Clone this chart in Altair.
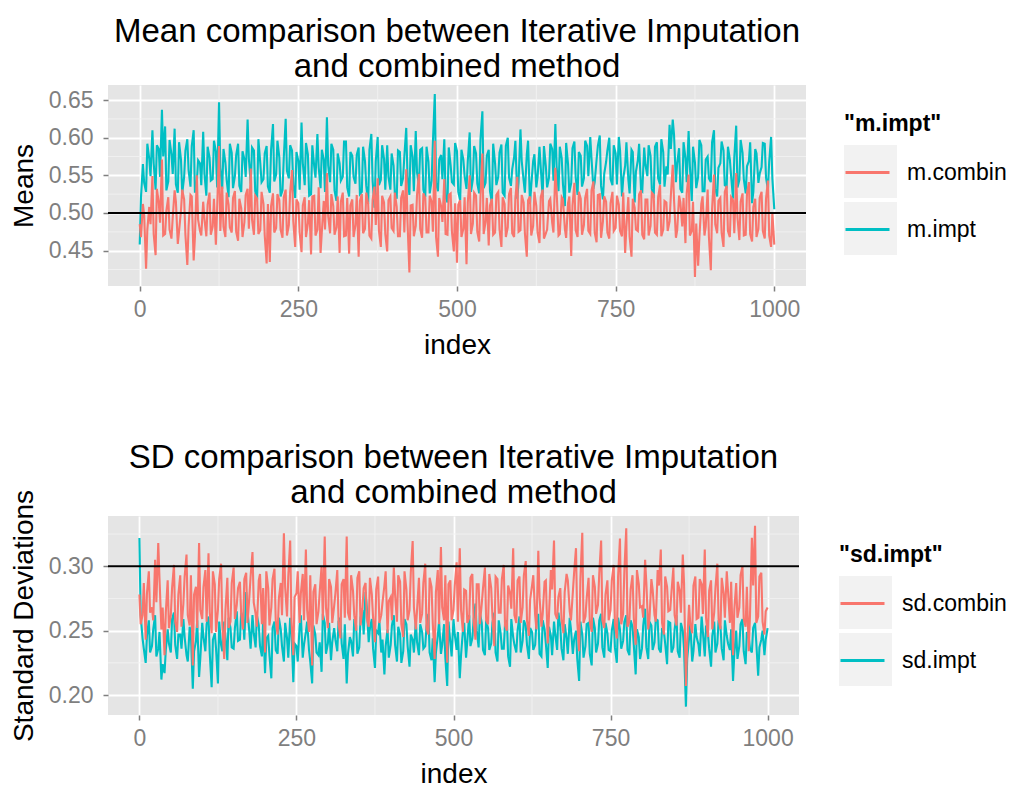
import altair as alt
import pandas as pd

# ---------------- data ----------------
# values at index 0, 5, 10, ..., 1000
index_a = list(range(0, 1001, 5))
# values at index 2, 7, 12, ..., 997
index_b = list(range(2, 1000, 5))

m_impt_a = [
    0.458, 0.565, 0.528, 0.572, 0.610, 0.531, 0.585, 0.637, 0.615, 0.542,
    0.578, 0.612, 0.527, 0.571, 0.548, 0.598, 0.535, 0.610, 0.541, 0.566,
    0.608, 0.523, 0.574, 0.545, 0.582, 0.647, 0.532, 0.567, 0.521, 0.580,
    0.549, 0.592, 0.528, 0.571, 0.624, 0.539, 0.583, 0.518, 0.566, 0.545,
    0.589, 0.527, 0.618, 0.551, 0.574, 0.530, 0.625, 0.546, 0.583, 0.520,
    0.569, 0.620, 0.537, 0.578, 0.525, 0.562, 0.605, 0.533, 0.571, 0.627,
    0.541, 0.584, 0.516, 0.566, 0.548, 0.595, 0.522, 0.576, 0.539, 0.587,
    0.528, 0.569, 0.512, 0.605, 0.507, 0.601, 0.544, 0.572, 0.590, 0.531,
    0.563, 0.519, 0.581, 0.546, 0.613, 0.524, 0.575, 0.609, 0.537, 0.586,
    0.521, 0.568, 0.543, 0.658, 0.529, 0.577, 0.598, 0.514, 0.563, 0.538,
    0.582, 0.517, 0.571, 0.532, 0.607, 0.545, 0.579, 0.526, 0.635, 0.540,
    0.584, 0.513, 0.566, 0.548, 0.591, 0.523, 0.600, 0.536, 0.574, 0.519,
    0.611, 0.543, 0.578, 0.512, 0.569, 0.534, 0.588, 0.521, 0.562, 0.547,
    0.585, 0.618, 0.529, 0.573, 0.509, 0.565, 0.540, 0.595, 0.524, 0.576,
    0.546, 0.589, 0.601, 0.532, 0.571, 0.603, 0.518, 0.568, 0.600, 0.537,
    0.579, 0.601, 0.522, 0.563, 0.545, 0.584, 0.514, 0.570, 0.531, 0.587,
    0.549, 0.576, 0.520, 0.594, 0.538, 0.581, 0.562, 0.617, 0.624, 0.541,
    0.586, 0.527, 0.573, 0.609, 0.516, 0.567, 0.548, 0.590, 0.529, 0.575,
    0.541, 0.610, 0.522, 0.566, 0.583, 0.535, 0.571, 0.519, 0.616, 0.544,
    0.580, 0.526, 0.569, 0.513, 0.585, 0.540, 0.561, 0.592, 0.531, 0.601,
    0.505,
]
m_impt_b = [
    0.521, 0.540, 0.592, 0.549, 0.566, 0.590, 0.548, 0.575, 0.530, 0.597,
    0.552, 0.538, 0.594, 0.526, 0.583, 0.557, 0.589, 0.527, 0.570, 0.537,
    0.552, 0.588, 0.543, 0.596, 0.534, 0.560, 0.585, 0.544, 0.592, 0.533,
    0.577, 0.536, 0.582, 0.548, 0.572, 0.587, 0.529, 0.598, 0.541, 0.579,
    0.535, 0.584, 0.542, 0.596, 0.522, 0.573, 0.556, 0.590, 0.537, 0.581,
    0.531, 0.566, 0.593, 0.523, 0.590, 0.547, 0.561, 0.584, 0.528, 0.563,
    0.592, 0.530, 0.579, 0.543, 0.595, 0.534, 0.581, 0.548, 0.577, 0.525,
    0.588, 0.536, 0.584, 0.543, 0.569, 0.537, 0.590, 0.531, 0.548, 0.579,
    0.527, 0.583, 0.536, 0.575, 0.548, 0.590, 0.529, 0.554, 0.584, 0.531,
    0.588, 0.526, 0.593, 0.540, 0.571, 0.545, 0.521, 0.587, 0.541, 0.593,
    0.528, 0.584, 0.549, 0.569, 0.528, 0.589, 0.539, 0.598, 0.533, 0.576,
    0.529, 0.592, 0.537, 0.580, 0.527, 0.589, 0.547, 0.558, 0.596, 0.541,
    0.569, 0.527, 0.596, 0.536, 0.578, 0.548, 0.560, 0.589, 0.534, 0.592,
    0.543, 0.562, 0.588, 0.538, 0.593, 0.527, 0.586, 0.548, 0.581, 0.535,
    0.596, 0.549, 0.572, 0.541, 0.589, 0.536, 0.552, 0.583, 0.545, 0.590,
    0.538, 0.583, 0.546, 0.594, 0.526, 0.581, 0.555, 0.592, 0.529, 0.564,
    0.590, 0.532, 0.588, 0.546, 0.598, 0.535, 0.551, 0.585, 0.604, 0.566,
    0.532, 0.594, 0.541, 0.562, 0.588, 0.533, 0.597, 0.529, 0.571, 0.546,
    0.594, 0.532, 0.560, 0.595, 0.537, 0.588, 0.549, 0.574, 0.534, 0.597,
    0.545, 0.562, 0.594, 0.528, 0.579, 0.552, 0.593, 0.547, 0.568, 0.546,
]

m_combin_a = [
    0.485, 0.512, 0.426, 0.508, 0.549, 0.444, 0.514, 0.571, 0.472, 0.521,
    0.466, 0.530, 0.459, 0.503, 0.518, 0.431, 0.524, 0.437, 0.550, 0.476,
    0.515, 0.469, 0.527, 0.482, 0.458, 0.589, 0.535, 0.468, 0.511, 0.474,
    0.529, 0.463, 0.506, 0.488, 0.532, 0.559, 0.471, 0.519, 0.477, 0.512,
    0.433, 0.435, 0.526, 0.480, 0.517, 0.467, 0.531, 0.484, 0.557, 0.455,
    0.513, 0.448, 0.521, 0.486, 0.445, 0.523, 0.478, 0.447, 0.516, 0.553,
    0.473, 0.509, 0.481, 0.447, 0.527, 0.470, 0.446, 0.518, 0.484, 0.442,
    0.525, 0.479, 0.512, 0.466, 0.535, 0.546, 0.455, 0.514, 0.449, 0.522,
    0.476, 0.508, 0.469, 0.530, 0.558, 0.421, 0.511, 0.483, 0.552, 0.467,
    0.520, 0.474, 0.515, 0.596, 0.442, 0.509, 0.545, 0.471, 0.526, 0.449,
    0.434, 0.517, 0.479, 0.432, 0.550, 0.486, 0.523, 0.462, 0.579, 0.488,
    0.457, 0.519, 0.474, 0.528, 0.455, 0.512, 0.481, 0.533, 0.468, 0.548,
    0.477, 0.514, 0.442, 0.522, 0.483, 0.509, 0.460, 0.531, 0.473, 0.516,
    0.487, 0.560, 0.470, 0.521, 0.479, 0.513, 0.443, 0.540, 0.468, 0.519,
    0.484, 0.532, 0.472, 0.542, 0.461, 0.525, 0.489, 0.515, 0.466, 0.528,
    0.480, 0.511, 0.469, 0.447, 0.521, 0.442, 0.507, 0.476, 0.530, 0.465,
    0.518, 0.483, 0.524, 0.471, 0.537, 0.478, 0.514, 0.489, 0.564, 0.467,
    0.523, 0.482, 0.460, 0.551, 0.476, 0.415, 0.430, 0.512, 0.470, 0.531,
    0.424, 0.551, 0.473, 0.520, 0.455, 0.536, 0.468, 0.517, 0.553, 0.464,
    0.526, 0.471, 0.541, 0.462, 0.519, 0.479, 0.528, 0.466, 0.543, 0.455,
    0.458,
]
m_combin_b = [
    0.468, 0.497, 0.478, 0.485, 0.472, 0.532, 0.487, 0.470, 0.503, 0.478,
    0.494, 0.515, 0.476, 0.531, 0.471, 0.482, 0.522, 0.468, 0.491, 0.470,
    0.492, 0.511, 0.471, 0.519, 0.506, 0.476, 0.482, 0.527, 0.481, 0.520,
    0.475, 0.519, 0.468, 0.524, 0.479, 0.491, 0.523, 0.472, 0.528, 0.470,
    0.512, 0.509, 0.474, 0.525, 0.478, 0.521, 0.470, 0.527, 0.489, 0.518,
    0.474, 0.510, 0.468, 0.517, 0.522, 0.470, 0.534, 0.475, 0.478, 0.496,
    0.525, 0.471, 0.522, 0.515, 0.469, 0.520, 0.510, 0.468, 0.524, 0.516,
    0.473, 0.527, 0.470, 0.517, 0.484, 0.476, 0.523, 0.472, 0.517, 0.480,
    0.527, 0.469, 0.520, 0.474, 0.488, 0.510, 0.469, 0.524, 0.479, 0.526,
    0.474, 0.523, 0.475, 0.468, 0.520, 0.488, 0.472, 0.524, 0.475, 0.513,
    0.511, 0.468, 0.521, 0.514, 0.472, 0.527, 0.475, 0.521, 0.472, 0.520,
    0.510, 0.471, 0.524, 0.478, 0.521, 0.468, 0.525, 0.473, 0.520, 0.475,
    0.524, 0.473, 0.517, 0.470, 0.528, 0.474, 0.521, 0.466, 0.478, 0.519,
    0.474, 0.529, 0.472, 0.518, 0.467, 0.522, 0.510, 0.477, 0.528, 0.471,
    0.520, 0.476, 0.530, 0.474, 0.524, 0.467, 0.522, 0.474, 0.513, 0.476,
    0.523, 0.476, 0.527, 0.482, 0.469, 0.519, 0.478, 0.525, 0.471, 0.518,
    0.470, 0.527, 0.474, 0.521, 0.469, 0.516, 0.476, 0.523, 0.518, 0.477,
    0.514, 0.520, 0.526, 0.470, 0.515, 0.486, 0.468, 0.522, 0.482, 0.468,
    0.506, 0.485, 0.516, 0.474, 0.528, 0.476, 0.521, 0.473, 0.494, 0.515,
    0.470, 0.526, 0.472, 0.508, 0.468, 0.520, 0.476, 0.519, 0.470, 0.500,
]

sd_combin_a = [
    0.278, 0.262, 0.243, 0.296, 0.268, 0.305, 0.318, 0.251, 0.231, 0.289,
    0.262, 0.301, 0.249, 0.293, 0.271, 0.309, 0.254, 0.223, 0.284, 0.318,
    0.259, 0.297, 0.310, 0.248, 0.286, 0.266, 0.302, 0.228, 0.291, 0.257,
    0.299, 0.270, 0.288, 0.251, 0.295, 0.276, 0.311, 0.263, 0.289, 0.255,
    0.233, 0.283, 0.268, 0.298, 0.247, 0.287, 0.3255, 0.261, 0.320, 0.231,
    0.279, 0.256, 0.294, 0.313, 0.249, 0.223, 0.286, 0.265, 0.300, 0.323,
    0.252, 0.284, 0.269, 0.297, 0.244, 0.290, 0.323, 0.258, 0.281, 0.250,
    0.296, 0.267, 0.287, 0.253, 0.278, 0.241, 0.292, 0.262, 0.285, 0.248,
    0.276, 0.299, 0.257, 0.288, 0.245, 0.282, 0.266, 0.3195, 0.251, 0.291,
    0.263, 0.302, 0.247, 0.284, 0.228, 0.297, 0.315, 0.258, 0.225, 0.289,
    0.266, 0.303, 0.314, 0.249, 0.281, 0.260, 0.294, 0.243, 0.286, 0.271,
    0.299, 0.255, 0.283, 0.238, 0.290, 0.264, 0.301, 0.250, 0.279, 0.314,
    0.256, 0.292, 0.268, 0.304, 0.246, 0.285, 0.262, 0.312, 0.253, 0.288,
    0.240, 0.297, 0.320, 0.259, 0.283, 0.248, 0.294, 0.265, 0.280, 0.314,
    0.234, 0.326, 0.261, 0.291, 0.249, 0.284, 0.270, 0.320, 0.252, 0.289,
    0.266, 0.301, 0.244, 0.3215, 0.263, 0.3295, 0.257, 0.293, 0.239, 0.286,
    0.269, 0.305, 0.251, 0.290, 0.262, 0.297, 0.313, 0.247, 0.284, 0.266,
    0.299, 0.254, 0.281, 0.309, 0.207, 0.270, 0.248, 0.292, 0.260, 0.286,
    0.313, 0.245, 0.289, 0.264, 0.302, 0.251, 0.279, 0.296, 0.256, 0.231,
    0.287, 0.268, 0.300, 0.253, 0.234, 0.322, 0.3315, 0.261, 0.295, 0.247,
    0.268,
]
sd_combin_b = [
    0.255, 0.287, 0.279, 0.264, 0.258, 0.272, 0.290, 0.268, 0.264, 0.252,
    0.283, 0.257, 0.278, 0.253, 0.292, 0.262, 0.293, 0.278, 0.252, 0.266,
    0.284, 0.257, 0.264, 0.296, 0.249, 0.290, 0.255, 0.266, 0.252, 0.287,
    0.259, 0.283, 0.263, 0.290, 0.256, 0.292, 0.272, 0.253, 0.294, 0.283,
    0.296, 0.254, 0.290, 0.258, 0.275, 0.262, 0.284, 0.292, 0.258, 0.276,
    0.296, 0.279, 0.258, 0.266, 0.293, 0.280, 0.255, 0.280, 0.258, 0.268,
    0.290, 0.256, 0.279, 0.256, 0.286, 0.260, 0.264, 0.293, 0.262, 0.291,
    0.254, 0.283, 0.260, 0.291, 0.260, 0.282, 0.256, 0.272, 0.296, 0.273,
    0.258, 0.278, 0.293, 0.255, 0.296, 0.258, 0.295, 0.268, 0.266, 0.256,
    0.287, 0.252, 0.291, 0.256, 0.280, 0.255, 0.268, 0.293, 0.286, 0.258,
    0.285, 0.257, 0.266, 0.282, 0.256, 0.291, 0.258, 0.286, 0.255, 0.283,
    0.258, 0.294, 0.261, 0.292, 0.264, 0.290, 0.254, 0.285, 0.267, 0.262,
    0.289, 0.256, 0.293, 0.258, 0.274, 0.293, 0.251, 0.276, 0.263, 0.289,
    0.262, 0.282, 0.263, 0.276, 0.259, 0.280, 0.289, 0.258, 0.295, 0.257,
    0.290, 0.256, 0.275, 0.257, 0.293, 0.263, 0.294, 0.258, 0.278, 0.258,
    0.289, 0.255, 0.292, 0.255, 0.296, 0.253, 0.282, 0.260, 0.297, 0.268,
    0.260, 0.287, 0.259, 0.282, 0.257, 0.285, 0.256, 0.292, 0.265, 0.280,
    0.262, 0.288, 0.264, 0.287, 0.240, 0.255, 0.285, 0.259, 0.290, 0.263,
    0.260, 0.281, 0.251, 0.283, 0.259, 0.291, 0.260, 0.281, 0.288, 0.266,
    0.260, 0.293, 0.259, 0.284, 0.262, 0.285, 0.256, 0.292, 0.257, 0.265,
]

sd_impt_a = [
    0.322, 0.244, 0.225, 0.258, 0.238, 0.262, 0.236, 0.212, 0.217, 0.251,
    0.233, 0.264, 0.228, 0.247, 0.259, 0.231, 0.253, 0.205, 0.242, 0.214,
    0.256, 0.234, 0.261, 0.206, 0.248, 0.209, 0.239, 0.257, 0.227, 0.252,
    0.236, 0.265, 0.243, 0.258, 0.280, 0.249, 0.262, 0.237, 0.254, 0.230,
    0.217, 0.246, 0.213, 0.257, 0.232, 0.251, 0.226, 0.244, 0.260, 0.210,
    0.238, 0.253, 0.229, 0.249, 0.235, 0.209, 0.247, 0.231, 0.218, 0.256,
    0.240, 0.227, 0.252, 0.234, 0.260, 0.228, 0.209, 0.245, 0.230, 0.254,
    0.237, 0.266, 0.280, 0.241, 0.259, 0.221, 0.248, 0.233, 0.216, 0.251,
    0.239, 0.262, 0.226, 0.247, 0.234, 0.255, 0.222, 0.243, 0.258, 0.231,
    0.249, 0.238, 0.263, 0.227, 0.210, 0.246, 0.232, 0.255, 0.207, 0.241,
    0.259, 0.235, 0.213, 0.250, 0.229, 0.262, 0.244, 0.271, 0.237, 0.256,
    0.231, 0.252, 0.240, 0.264, 0.226, 0.248, 0.236, 0.258, 0.222, 0.245,
    0.233, 0.261, 0.242, 0.254, 0.228, 0.249, 0.239, 0.263, 0.230, 0.251,
    0.221, 0.246, 0.257, 0.235, 0.253, 0.227, 0.244, 0.260, 0.232, 0.250,
    0.211, 0.247, 0.238, 0.256, 0.223, 0.252, 0.240, 0.263, 0.229, 0.248,
    0.234, 0.259, 0.225, 0.251, 0.242, 0.262, 0.231, 0.253, 0.216, 0.245,
    0.236, 0.267, 0.228, 0.254, 0.241, 0.258, 0.233, 0.249, 0.224, 0.256,
    0.237, 0.262, 0.229, 0.250, 0.191, 0.244, 0.226, 0.255, 0.239, 0.261,
    0.230, 0.248, 0.222, 0.257, 0.240, 0.253, 0.227, 0.246, 0.235, 0.211,
    0.250, 0.238, 0.259, 0.224, 0.245, 0.233, 0.256, 0.215, 0.243, 0.231,
    0.252,
]
sd_impt_b = [
    0.262, 0.236, 0.246, 0.233, 0.251, 0.230, 0.249, 0.224, 0.235, 0.240,
    0.259, 0.239, 0.247, 0.236, 0.245, 0.226, 0.247, 0.234, 0.258, 0.229,
    0.245, 0.255, 0.232, 0.243, 0.236, 0.257, 0.234, 0.245, 0.260, 0.237,
    0.252, 0.242, 0.264, 0.243, 0.266, 0.236, 0.248, 0.262, 0.238, 0.258,
    0.244, 0.231, 0.252, 0.235, 0.260, 0.238, 0.256, 0.229, 0.250, 0.240,
    0.226, 0.262, 0.239, 0.257, 0.226, 0.254, 0.233, 0.241, 0.263, 0.232,
    0.256, 0.241, 0.243, 0.257, 0.240, 0.255, 0.232, 0.242, 0.259, 0.232,
    0.260, 0.247, 0.268, 0.252, 0.236, 0.250, 0.257, 0.243, 0.238, 0.229,
    0.254, 0.239, 0.253, 0.225, 0.259, 0.238, 0.247, 0.233, 0.241, 0.255,
    0.236, 0.253, 0.233, 0.244, 0.233, 0.257, 0.239, 0.229, 0.257, 0.230,
    0.247, 0.249, 0.231, 0.256, 0.242, 0.238, 0.258, 0.250, 0.264, 0.235,
    0.258, 0.235, 0.256, 0.233, 0.258, 0.236, 0.255, 0.230, 0.259, 0.239,
    0.250, 0.233, 0.258, 0.239, 0.252, 0.235, 0.257, 0.232, 0.258, 0.240,
    0.253, 0.231, 0.247, 0.264, 0.236, 0.255, 0.232, 0.251, 0.243, 0.228,
    0.257, 0.229, 0.255, 0.232, 0.260, 0.233, 0.258, 0.237, 0.256, 0.235,
    0.250, 0.237, 0.260, 0.236, 0.257, 0.235, 0.258, 0.239, 0.251, 0.228,
    0.254, 0.237, 0.257, 0.235, 0.259, 0.236, 0.252, 0.240, 0.257, 0.233,
    0.251, 0.234, 0.256, 0.236, 0.228, 0.256, 0.234, 0.245, 0.230, 0.249,
    0.254, 0.236, 0.246, 0.233, 0.258, 0.236, 0.258, 0.240, 0.251, 0.232,
    0.228, 0.255, 0.234, 0.249, 0.236, 0.252, 0.241, 0.237, 0.250, 0.243,
]

x_ticks = [0, 250, 500, 750, 1000]
x_minor = [125, 375, 625, 875]
mean_y_ticks = [0.45, 0.50, 0.55, 0.60, 0.65]
mean_y_minor = [0.425, 0.475, 0.525, 0.575, 0.625]
sd_y_ticks = [0.20, 0.25, 0.30]
sd_y_minor = [0.225, 0.275, 0.325]
mean_ref = [0.5]
sd_ref = [0.3]

mean_names = ["m.combin", "m.impt"]
sd_names = ["sd.combin", "sd.impt"]
key_ids = ["key1", "key2"]

RED = "#F8766D"
CYAN = "#00BFC4"
KEY_BG = "#F2F2F2"
FONT = "Liberation Sans"


def long_frame(names, combin_a, combin_b, impt_a, impt_b):
    idx = index_a + index_b
    return pd.DataFrame({
        "index": idx + idx,
        "value": combin_a + combin_b + impt_a + impt_b,
        "series": [names[0]] * len(idx) + [names[1]] * len(idx),
    }).sort_values(["series", "index"])


def panel(names, combin_a, combin_b, impt_a, impt_b, ref, yticks, yminor,
          ydomain, ytitle, title, title_offset, legend_title, lx, ly,
          width, height):
    df = long_frame(names, combin_a, combin_b, impt_a, impt_b)
    x = alt.X("index:Q",
              scale=alt.Scale(domain=[-50, 1050], nice=False, zero=False),
              axis=alt.Axis(values=x_ticks, title="index", format="d"))
    y = alt.Y("value:Q",
              scale=alt.Scale(domain=ydomain, nice=False, zero=False),
              axis=alt.Axis(values=yticks, title=ytitle, format=".2f"))
    stroke = alt.Stroke(
        "series:N",
        scale=alt.Scale(domain=names, range=[RED, CYAN]),
        legend=alt.Legend(title=legend_title, orient="none",
                          legendX=lx, legendY=ly,
                          symbolType="stroke", symbolSize=1936,
                          symbolStrokeWidth=3, rowPadding=21,
                          labelOffset=16, titlePadding=13),
    )

    vminor = alt.Chart(pd.DataFrame({"index": x_minor})).mark_rule(
        color=KEY_BG, strokeWidth=0.9).encode(x=x)
    hminor = alt.Chart(pd.DataFrame({"value": yminor})).mark_rule(
        color=KEY_BG, strokeWidth=0.9).encode(y=y)

    # grey key boxes behind the legend lines (a legend of its own, no text)
    keys = alt.Chart(pd.DataFrame({
        "key": key_ids, "index": [0, 0], "value": [ref[0], ref[0]]
    })).mark_square(size=0, opacity=1).encode(
        x=x, y=y,
        fill=alt.Fill("key:N",
                      scale=alt.Scale(domain=key_ids, range=[KEY_BG, KEY_BG]),
                      legend=alt.Legend(title=None, orient="none",
                                        legendX=lx, legendY=ly + 32,
                                        symbolType="square", symbolSize=2809,
                                        symbolStrokeWidth=0, rowPadding=4,
                                        labelExpr="''")),
    )

    line_impt = alt.Chart(df).transform_filter(
        alt.datum.series == names[1]).mark_line(strokeWidth=2.1).encode(
        x=x, y=y, stroke=stroke)
    line_combin = alt.Chart(df).transform_filter(
        alt.datum.series == names[0]).mark_line(strokeWidth=2.1).encode(
        x=x, y=y, stroke=stroke)
    hline = alt.Chart(pd.DataFrame({"value": ref})).mark_rule(
        color="black", strokeWidth=2.2).encode(y=y)

    return alt.layer(vminor, hminor, keys, line_impt, line_combin, hline).properties(
        width=width, height=height,
        title=alt.TitleParams(title, fontSize=33, font=FONT, fontWeight="normal",
                              anchor="middle", lineHeight=35, offset=title_offset,
                              color="black"),
    )


top = panel(mean_names, m_combin_a, m_combin_b, m_impt_a, m_impt_b, mean_ref,
            mean_y_ticks, mean_y_minor, [0.403, 0.670], "Means",
            ["Mean comparison between Iterative Imputation", "and combined method"],
            1, '"m.impt"', 736, 28, 698, 201)
bottom = panel(sd_names, sd_combin_a, sd_combin_b, sd_impt_a, sd_impt_b, sd_ref,
               sd_y_ticks, sd_y_minor, [0.1845, 0.339], "Standard Deviations",
               ["SD comparison between Iterative Imputation", "and combined method"],
               -21, '"sd.impt"', 731, 28, 691, 199)

chart = alt.vconcat(top, bottom, spacing=83).resolve_scale(
    stroke="independent", fill="independent"
).properties(
    padding={"left": 10, "top": 15, "right": 5, "bottom": 0},
    background="white",
).configure_view(
    fill="#E5E5E5", strokeWidth=0,
).configure_axis(
    domain=False, grid=True, gridColor="white", gridWidth=1.8,
    tickColor="#7F7F7F", tickSize=5, tickWidth=1.5,
    labelColor="#7F7F7F", labelFont=FONT, labelFontSize=23,
    titleFont=FONT, titleFontSize=28, titleFontWeight="normal", titleColor="black",
    titlePadding=10,
).configure_axisX(
    labelPadding=7,
).configure_axisY(
    labelPadding=10,
).configure_legend(
    titleFont=FONT, titleFontSize=23, titleFontWeight="bold", titleColor="black",
    labelFont=FONT, labelFontSize=23, labelColor="black",
)

chart.save("out.html", embed_options={"renderer": "svg", "actions": False})
